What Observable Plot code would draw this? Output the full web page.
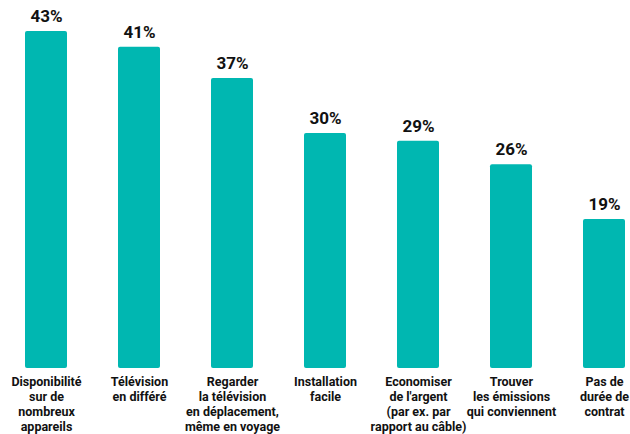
<!DOCTYPE html>
<html><head><meta charset="utf-8">
<script src="https://cdn.jsdelivr.net/npm/d3@7"></script>
<script src="https://cdn.jsdelivr.net/npm/@observablehq/plot@0.6"></script>
<style>
html,body{margin:0;padding:0;background:#fff;}
#chart svg{display:block;}
</style></head>
<body><div id="chart"></div>
<script>
const categories = [
  "Disponibilité\nsur de\nnombreux\nappareils",
  "Télévision\nen différé",
  "Regarder\nla télévision\nen déplacement,\nmême en voyage",
  "Installation\nfacile",
  "Economiser\nde l'argent\n(par ex. par\nrapport au câble)",
  "Trouver\nles émissions\nqui conviennent",
  "Pas de\ndurée de\ncontrat"
];
const values = [43, 41, 37, 30, 29, 26, 19];
const data = categories.map((c, i) => ({category: c, value: values[i]}));

const chart = Plot.plot({
  width: 630,
  height: 434,
  marginTop: 31,
  marginBottom: 66,
  marginLeft: 25,
  marginRight: 5,
  style: {fontFamily: "Roboto, 'Liberation Sans', sans-serif", color: "#111"},
  x: {domain: categories, paddingInner: 0.55, paddingOuter: 0, label: null},
  y: {domain: [0, 43], axis: null},
  marks: [
    Plot.barY(data, {x: "category", y: "value", fill: "#00b7b1", rx: 2}),
    Plot.text(data, {x: "category", y: "value", text: d => d.value + "%", dy: -15, fontSize: 17, fontWeight: 700, fill: "#111"}),
    Plot.axisX({tickSize: 0, tickPadding: 7, fontSize: 12.5, fontWeight: 700, lineHeight: 1.2, label: null, fill: "#111"})
  ]
});
document.getElementById("chart").appendChild(chart);
</script>
</body></html>
